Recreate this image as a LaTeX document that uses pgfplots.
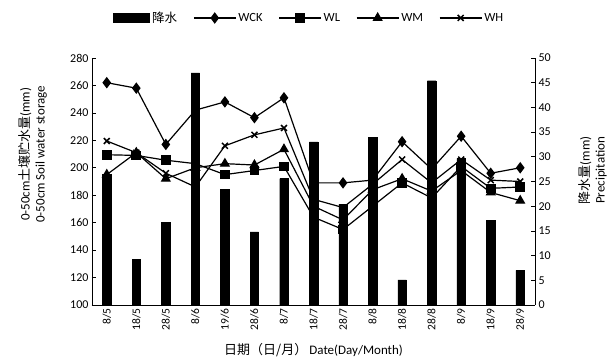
\documentclass[border=0pt]{standalone}
\usepackage{pgfplots}
\pgfplotsset{compat=1.18}
\usepackage{fontspec}
\setmainfont{Carlito}
\newfontfamily\cjk{Noto Sans CJK SC}
\begin{document}
\begin{tikzpicture}
\pgfplotsset{
  common/.style={
    scale only axis, width=443pt, height=247pt,
    xmin=-0.5, xmax=14.5,
    /pgf/number format/assume math mode=true,
    tick label style={font=\fontsize{12}{14}\selectfont},
    label style={font=\fontsize{13}{15}\selectfont},
    axis line style={line width=0.7pt},
    major tick length=4pt,
    every tick/.style={black, line width=0.6pt},
  }
}
% bars, right axis
\begin{axis}[common, name=ax,
  ymin=0, ymax=50, ytick={0,5,...,50},
  axis y line*=right, axis x line=none,
  ylabel={{\cjk 降水量}(mm)\\Precipitation},
  ylabel style={align=center, at={(axis description cs:1.13,0.545)}, anchor=center, rotate=0},
]
\addplot[ybar, bar width=8.5pt, fill=black, draw=black] coordinates {
(0,26.5) (1,9.2) (2,16.7) (3,47) (4,23.4) (5,14.8) (6,25.6) (7,33)
(8,20.4) (9,33.9) (10,5.1) (11,45.4) (12,29.7) (13,17.2) (14,7)};
\end{axis}
% lines, left axis
\begin{axis}[common,
  ymin=100, ymax=280, ytick={100,120,...,280},
  axis y line*=left, axis x line*=bottom,
  xtick={0,...,14},
  xticklabels={8/5,18/5,28/5,8/6,19/6,28/6,8/7,18/7,28/7,8/8,18/8,28/8,8/9,18/9,28/9},
  xticklabel style={rotate=90, anchor=east, font=\fontsize{11.5}{13}\selectfont},
  xtick style={draw=none},
  ylabel={0-50cm{\cjk 土壤贮水量}(mm)\\0-50cm Soil water storage},
  ylabel style={align=center, at={(axis description cs:-0.134,0.61)}, anchor=center},
  xlabel={{\cjk 日期（日/月）}\,Date(Day/Month)},
  xlabel style={at={(axis description cs:0.5,-0.182)}, anchor=center},
  legend columns=5,
  legend style={at={(axis description cs:0.49,1.162)}, anchor=center, draw=none,
    font=\fontsize{12.5}{14}\selectfont,
    /tikz/every even column/.append style={column sep=14pt}},
  legend image code/.code={\draw[mark repeat=2,mark phase=2] plot coordinates {(0pt,0pt) (21pt,0pt) (42pt,0pt)};},
  every axis plot/.append style={black, line width=1.2pt},
]
\addlegendimage{legend image code/.code={\fill[black] (0pt,-4pt) rectangle (36pt,4pt);}}
\addlegendentry{\cjk 降水}
\addplot[mark=diamond*, mark size=4.8pt, mark options={solid}] coordinates {
(0,262) (1,258) (2,217) (3,242) (4,248) (5,236.5) (6,251) (7,189)
(8,189) (9,191) (10,219) (11,199) (12,223) (13,196) (14,200)};
\addlegendentry{WCK}
\addplot[mark=square*, mark size=4.2pt] coordinates {
(0,209.5) (1,209) (2,205.5) (3,203) (4,195) (5,198) (6,201) (7,164)
(8,155) (9,172) (10,189) (11,178) (12,201) (13,185) (14,186)};
\addlegendentry{WL}
\addplot[mark=triangle*, mark size=4.8pt] coordinates {
(0,195) (1,211) (2,192) (3,200) (4,203) (5,202) (6,213.5) (7,172)
(8,162) (9,184) (10,192) (11,183) (12,198) (13,182) (14,176)};
\addlegendentry{WM}
\addplot[mark=x, mark size=4.2pt, mark options={line width=1.5pt}] coordinates {
(0,219.5) (1,211) (2,196) (3,186) (4,216) (5,224) (6,229) (7,177)
(8,171) (9,188) (10,206) (11,189) (12,206) (13,191) (14,190)};
\addlegendentry{WH}
\end{axis}
\pgfresetboundingbox
\path ([xshift=-92pt,yshift=-57pt]ax.south west) rectangle ([xshift=77pt,yshift=58pt]ax.north east);
\end{tikzpicture}
\end{document}
